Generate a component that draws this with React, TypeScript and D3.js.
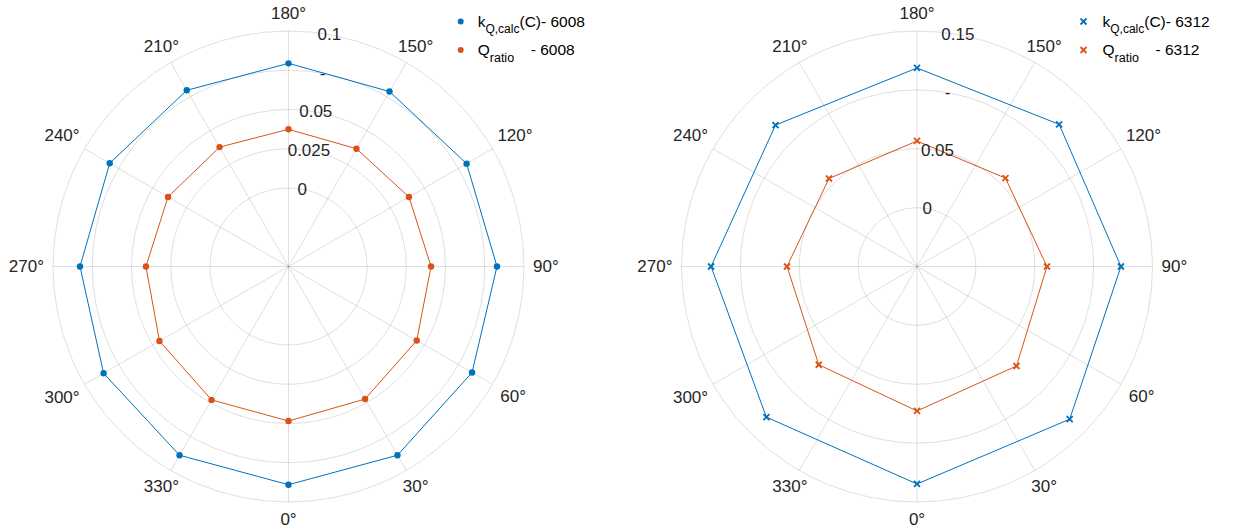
import React from "react";
import * as d3 from "d3";

// ---- data ----
const thetaLeft = [0, 30, 60, 90, 120, 150, 180, 210, 240, 270, 300, 330];
const kLeft = [0.089, 0.0888, 0.085, 0.0828, 0.081, 0.0787, 0.0794, 0.0796, 0.0815, 0.0828, 0.086, 0.0888];
const qLeft = [0.0484, 0.0475, 0.0443, 0.0408, 0.0386, 0.0366, 0.0374, 0.0378, 0.0386, 0.0408, 0.0449, 0.0481];

const thetaRight = [0, 45, 90, 135, 180, 225, 270, 315];
const kRight = [0.1347, 0.1334, 0.1232, 0.1207, 0.1186, 0.1199, 0.1249, 0.1309];
const qRight = [0.0727, 0.0695, 0.0604, 0.0562, 0.0566, 0.0557, 0.0604, 0.068];

const rTicksLeft = [0, 0.025, 0.05, 0.075, 0.1];
const rTickLabelsLeft = ["0", "0.025", "0.05", "-", "0.1"];
const rLimLeft = [-0.05, 0.1];

const rTicksRight = [0, 0.05, 0.1, 0.15];
const rTickLabelsRight = ["0", "0.05", "-", "0.15"];
const rLimRight = [-0.05, 0.15];

const thetaTicks = [0, 30, 60, 90, 120, 150, 180, 210, 240, 270, 300, 330];

const legendIdLeft = "6008";
const legendIdRight = "6312";

// ---- style ----
const BLUE = "#0072BD";
const ORANGE = "#D95319";
const AXIS = "#262626";
const FONT = "'Liberation Sans', Arial, Helvetica, sans-serif";
const R = 235.5;

const toRad = (d: number) => (d * Math.PI) / 180;
// screen position: theta 0 at bottom, counterclockwise
const pos = (thetaDeg: number, r: number) => [r * Math.sin(toRad(thetaDeg)), r * Math.cos(toRad(thetaDeg))];

function XMarker({ x, y, color }: { x: number; y: number; color: string }) {
  const s = 3;
  return (
    <g stroke={color} strokeWidth={1.8}>
      <line x1={x - s} y1={y - s} x2={x + s} y2={y + s} />
      <line x1={x - s} y1={y + s} x2={x + s} y2={y - s} />
    </g>
  );
}

function Polar({
  cx, cy, theta, k, q, rTicks, rLabels, rLim, marker, legendX, textOff, id,
}: {
  cx: number; cy: number; theta: number[]; k: number[]; q: number[];
  rTicks: number[]; rLabels: string[]; rLim: number[]; marker: "o" | "x"; legendX: number; textOff: number; id: string;
}) {
  const rScale = d3.scaleLinear().domain(rLim).range([0, R]);
  const line = d3
    .lineRadial<[number, number]>()
    .angle((d) => Math.PI - toRad(d[0]))
    .radius((d) => rScale(d[1]))
    .curve(d3.curveLinearClosed);

  const series = [
    { vals: k, color: BLUE },
    { vals: q, color: ORANGE },
  ];

  const fs = 17;
  const labelOffset = (t: number, txt: string) => {
    const hw = (txt.length - 1) * fs * 0.556 * 0.5 + fs * 0.2;
    const hh = fs * 0.5;
    const ux = Math.abs(Math.sin(toRad(t)));
    const uy = Math.abs(Math.cos(toRad(t)));
    const d = Math.min(ux > 1e-6 ? hw / ux : 1e9, uy > 1e-6 ? hh / uy : 1e9);
    return R + 9 + d;
  };

  return (
    <g transform={`translate(${cx},${cy})`}>
      {rTicks.map((t) => (
        <circle key={t} r={rScale(t)} fill="none" stroke={AXIS} strokeOpacity={0.15} strokeWidth={1} />
      ))}
      {thetaTicks.map((t) => {
        const [x, y] = pos(t, R);
        return <line key={t} x1={0} y1={0} x2={x} y2={y} stroke={AXIS} strokeOpacity={0.15} strokeWidth={1} />;
      })}
      {thetaTicks.map((t) => {
        const txt = `${t}°`;
        const [x, y] = pos(t, labelOffset(t, txt));
        return (
          <text key={t} x={x} y={y} textAnchor="middle" dominantBaseline="central" fontSize={fs} fill={AXIS} fontFamily={FONT}>
            {txt}
          </text>
        );
      })}
      {series.map((s, i) => {
        const pts: [number, number][] = theta.map((t, j) => [t, s.vals[j]]);
        return (
          <g key={i}>
            <path d={line(pts) || ""} fill="none" stroke={s.color} strokeWidth={1} />
            {pts.map((p, j) => {
              const [x, y] = pos(p[0], rScale(p[1]));
              return marker === "o" ? (
                <circle key={j} cx={x} cy={y} r={3.2} fill={s.color} />
              ) : (
                <XMarker key={j} x={x} y={y} color={s.color} />
              );
            })}
          </g>
        );
      })}
      {rTicks.map((t, i) => {
        const [x, y] = pos(170, rScale(t));
        return (
          <text key={t} x={x} y={y} textAnchor="middle" dominantBaseline="central" fontSize={fs} fill={AXIS} fontFamily={FONT}>
            {rLabels[i]}
          </text>
        );
      })}
      <g transform={`translate(${legendX - cx},${-cy})`} fontFamily={FONT} fill="#000">
        {marker === "o" ? (
          <>
            <circle cx={0} cy={21.5} r={3} fill={BLUE} />
            <circle cx={0} cy={50} r={3} fill={ORANGE} />
          </>
        ) : (
          <>
            <XMarker x={0} y={21.5} color={BLUE} />
            <XMarker x={0} y={50} color={ORANGE} />
          </>
        )}
        <text x={textOff} y={27} fontSize={15.5}>
          k
          <tspan fontSize={12} dy={5.5}>Q,calc</tspan>
          <tspan dy={-5.5}>{`(C)- ${id}`}</tspan>
        </text>
        <text x={textOff} y={55} fontSize={15.5}>
          Q
          <tspan fontSize={12.5} dy={7}>ratio</tspan>
        </text>
        <text x={textOff + 53} y={55} fontSize={15.5}>{`- ${id}`}</text>
      </g>
    </g>
  );
}

export default function App() {
  return (
    <svg width={1237} height={529} style={{ position: "absolute", left: 0, top: 0, background: "#fff" }}>
      <rect width={1237} height={529} fill="#fff" />
      <Polar cx={288.5} cy={266.5} theta={thetaLeft} k={kLeft} q={qLeft} rTicks={rTicksLeft} rLabels={rTickLabelsLeft} rLim={rLimLeft} marker="o" legendX={460.7} textOff={17} id={legendIdLeft} />
      <Polar cx={917} cy={266.5} theta={thetaRight} k={kRight} q={qRight} rTicks={rTicksRight} rLabels={rTickLabelsRight} rLim={rLimRight} marker="x" legendX={1083.5} textOff={19} id={legendIdRight} />
    </svg>
  );
}
